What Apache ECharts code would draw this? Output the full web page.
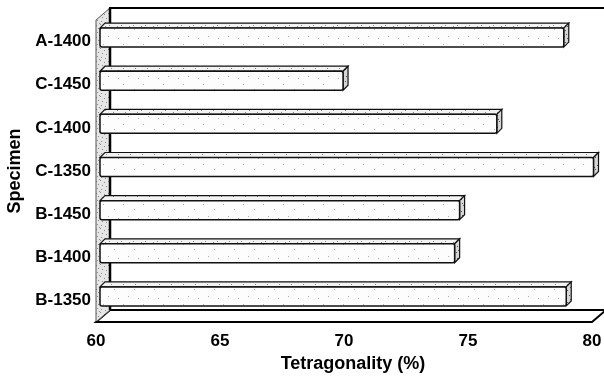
<!DOCTYPE html>
<html>
<head>
<meta charset="utf-8">
<script src="https://cdn.jsdelivr.net/npm/echarts@6/dist/echarts.min.js"></script>
<style>
  html, body { margin: 0; padding: 0; background: #fff; }
  #main { width: 604px; height: 381px; }
</style>
</head>
<body>
<div id="main"></div>
<script>
// categories top to bottom
var specimens = ['A-1400', 'C-1450', 'C-1400', 'C-1350', 'B-1450', 'B-1400', 'B-1350'];
var tetragonality = [78.7, 69.8, 76.0, 79.9, 74.5, 74.3, 78.8];
var xMin = 60, xMax = 80, xStep = 5;

var FONT = '"Liberation Sans", Arial, sans-serif';
var DX = 14, DY = 12;   // depth of the 3D box
var OFF = 4, BD = 5;    // bar offset into the box and bar depth

// small stipple tiles, fixed dot positions
function stipple(size, bg, dot, dots) {
  var c = document.createElement('canvas');
  c.width = size; c.height = size;
  var ctx = c.getContext('2d');
  ctx.fillStyle = bg;
  ctx.fillRect(0, 0, size, size);
  ctx.fillStyle = dot;
  dots.forEach(function (d) { ctx.fillRect(d[0], d[1], 1, 1); });
  return { image: c, repeat: 'repeat' };
}
var frontPat = stipple(20, '#fdfdfd', '#b0b0b0', [[3, 4], [14, 9], [8, 16], [18, 18]]);
var topPat = stipple(12, '#f3f3f3', '#8a8a8a', [[1, 1], [5, 4], [9, 2], [3, 8], [10, 10]]);
var sidePat = stipple(12, '#d6d6d6', '#555', [[0, 0], [3, 2], [7, 1], [10, 4], [1, 6], [5, 7], [9, 9], [2, 10], [6, 11]]);
var wallPat = stipple(12, '#e6e6e6', '#8a8a8a', [[0, 1], [4, 0], [8, 2], [2, 4], [6, 5], [10, 6], [1, 8], [5, 9], [9, 10], [3, 11]]);

var myChart = echarts.init(document.getElementById('main'));

function renderFrame(params, api) {
  var cs = params.coordSys;
  var l = cs.x, t = cs.y, r = cs.x + cs.width, b = cs.y + cs.height;
  return {
    type: 'group',
    children: [
      // back wall
      { type: 'rect', shape: { x: l + DX, y: t - DY, width: cs.width + 40, height: cs.height },
        style: { fill: '#fff', stroke: '#000', lineWidth: 2 } },
      // floor
      { type: 'polygon', shape: { points: [[l, b], [r, b], [r + DX, b - DY], [l + DX, b - DY]] },
        style: { fill: '#fff', stroke: '#000', lineWidth: 2 } },
      // left wall
      { type: 'polygon', shape: { points: [[l, t], [l + DX, t - DY], [l + DX, b - DY], [l, b]] },
        style: { fill: wallPat, stroke: '#555', lineWidth: 1 } },
      { type: 'line', shape: { x1: l + DX, y1: t - DY, x2: l + DX, y2: b - DY },
        style: { stroke: '#000', lineWidth: 2.5 } },
      { type: 'line', shape: { x1: l, y1: b, x2: r, y2: b },
        style: { stroke: '#000', lineWidth: 2 } }
    ]
  };
}

function renderBar(params, api) {
  var idx = api.value(0);
  var v = api.value(1);
  var p0 = api.coord([xMin, idx]);
  var p1 = api.coord([v, idx]);
  var h = api.size([0, 1])[1] * 0.44;
  var x0 = p0[0] + OFF, x1 = p1[0] + OFF;
  var yc = p0[1] - OFF;
  var yt = yc - h / 2, yb = yc + h / 2;
  return {
    type: 'group',
    children: [
      { type: 'polygon', shape: { points: [[x0 + BD, yt - BD], [x1 + BD, yt - BD], [x1, yt], [x0, yt]] },
        style: { fill: topPat, stroke: '#111', lineWidth: 1.2 } },
      { type: 'polygon', shape: { points: [[x1, yt], [x1 + BD, yt - BD], [x1 + BD, yb - BD], [x1, yb]] },
        style: { fill: sidePat, stroke: '#111', lineWidth: 1.2 } },
      { type: 'rect', shape: { x: x0, y: yt, width: x1 - x0, height: yb - yt, r: 2 },
        style: { fill: frontPat, stroke: '#111', lineWidth: 1.5 } }
    ]
  };
}

var option = {
  backgroundColor: '#fff',
  animation: false,
  grid: { left: 96, right: 12, top: 20, bottom: 59, outerBoundsMode: 'none', containLabel: false },
  xAxis: {
    type: 'value',
    min: xMin,
    max: xMax,
    interval: xStep,
    name: 'Tetragonality (%)',
    nameLocation: 'middle',
    nameGap: 33,
    nameTextStyle: { fontFamily: FONT, fontWeight: 'bold', fontSize: 18, color: '#000', padding: [0, 0, 0, 18] },
    axisLine: { show: false },
    axisTick: { show: false },
    splitLine: { show: false },
    axisLabel: { fontFamily: FONT, fontWeight: 'bold', fontSize: 17, color: '#000', margin: 11 }
  },
  yAxis: {
    type: 'category',
    data: specimens,
    inverse: true,
    name: 'Specimen',
    nameLocation: 'middle',
    nameRotate: 90,
    nameGap: 72,
    nameTextStyle: { fontFamily: FONT, fontWeight: 'bold', fontSize: 18, color: '#000' },
    axisLine: { show: false },
    axisTick: { show: false },
    splitLine: { show: false },
    axisLabel: { fontFamily: FONT, fontWeight: 'bold', fontSize: 17, color: '#000', margin: 5 }
  },
  series: [
    {
      type: 'custom',
      silent: true,
      clip: false,
      z: 1,
      renderItem: renderFrame,
      data: [[0, xMin]],
      encode: { y: 0, x: 1 }
    },
    {
      type: 'custom',
      clip: false,
      z: 2,
      renderItem: renderBar,
      data: specimens.map(function (s, i) { return [i, tetragonality[i]]; }),
      encode: { y: 0, x: 1 }
    }
  ]
};

myChart.setOption(option);
</script>
</body>
</html>
